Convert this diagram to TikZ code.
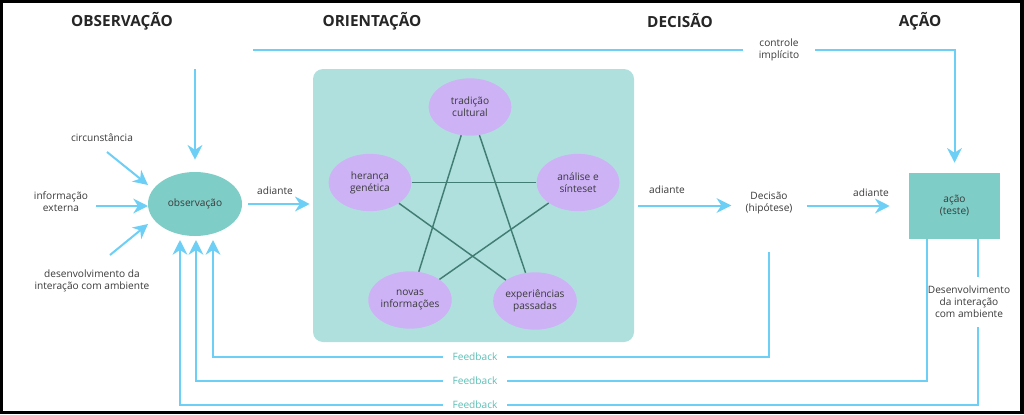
\documentclass[tikz,border=0pt]{standalone}
\usepackage{fontspec}
\setmainfont{Open Sans}
\usetikzlibrary{arrows.meta,shapes.geometric}
\definecolor{lblue}{HTML}{6DCFF6}
\definecolor{obsfill}{HTML}{7ECDC7}
\definecolor{boxfill}{HTML}{B0E0DE}
\definecolor{purp}{HTML}{CDB2F6}
\definecolor{starc}{HTML}{417D72}
\definecolor{fbtxt}{HTML}{5CBFB5}
\definecolor{txt}{HTML}{3A3A3A}
\definecolor{ttl}{HTML}{262626}
\begin{document}
\begin{tikzpicture}[x=0.75pt,y=-0.75pt,
  every node/.style={font=\fontsize{7.6pt}{9pt}\selectfont, text=txt, align=center},
  conn/.style={draw=lblue, line width=1.5pt},
  flow/.style={conn, -{Stealth[length=11pt,width=11pt,inset=3.5pt]}},
  title/.style={font=\fontsize{11.5pt}{13pt}\selectfont\bfseries, text=ttl},
  purpnode/.style={ellipse, fill=purp, minimum width=62pt, minimum height=43pt, inner sep=0pt},
  starline/.style={draw=starc, line width=1.1pt},
  gap/.style={inner sep=0pt, minimum height=9pt}
]
% frame
\fill[black] (0,0) rectangle (1024,414);
\fill[white] (2.5,2.5) rectangle (1020,410.5);
\useasboundingbox (0,0) rectangle (1024,414);

% titles
\node[title] (t1) at (122,21) {OBSERVAÇÃO};
\node[title] (t2) at (372,21) {ORIENTAÇÃO};
\node[title] (t3) at (680,21) {DECISÃO};
\node[title] (t4) at (920,21) {AÇÃO};

% main nodes
\node[ellipse, fill=obsfill, minimum width=70.5pt, minimum height=48pt, inner sep=0pt] (obs) at (195,204) {observação};
\node[rectangle, rounded corners=7.5pt, fill=boxfill, minimum width=240.75pt, minimum height=204.75pt, inner sep=0pt] (orient) at (473.5,205.5) {};
\node[inner sep=0pt] (dec) at (769,203) {Decisão\\(hipótese)};
\node[rectangle, fill=obsfill, minimum width=68.25pt, minimum height=49.5pt, inner sep=0pt] (acao) at (954.5,206) {ação\\(teste)};

% purple nodes
\node[purpnode] (trad) at (470,107) {tradição\\cultural};
\node[purpnode] (her) at (370,182.5) {herança\\genética};
\node[purpnode] (ana) at (578,182.5) {análise e\\sínteset};
\node[purpnode] (nov) at (410,300) {novas\\informações};
\node[purpnode] (exp) at (535,301) {experiências\\passadas};
\draw[starline] (trad) -- (nov);
\draw[starline] (trad) -- (exp);
\draw[starline] (her) -- (ana);
\draw[starline] (her) -- (exp);
\draw[starline] (ana) -- (nov);

% inputs to observation
\node (circ) at (102,138) {circunstância};
\node (info) at (61,201.5) {informação\\externa};
\node (desenv) at (92,280.5) {desenvolvimento da\\interação com ambiente};
\coordinate (c1s) at (107,152); \coordinate (c1e) at (148,185);
\coordinate (c2s) at (96,206);  \coordinate (c2e) at (148,206);
\coordinate (c3s) at (110,255); \coordinate (c3e) at (148,224);
\draw[flow] (c1s) -- (c1e);
\draw[flow] (c2s) -- (c2e);
\draw[flow] (c3s) -- (c3e);
\coordinate (topin) at (195,69);
\draw[flow, shorten >=9pt] (topin) -- (obs.north);

% forward arrows
\draw[flow, shorten <=4.5pt, shorten >=2.25pt] (obs.east) -- (obs.east -| orient.west);
\node (ad1) at (275,191) {adiante};
\draw[flow, shorten <=3pt, shorten >=10.5pt] (orient.east) -- (orient.east -| dec.west);
\node (ad2) at (667,190) {adiante};
\draw[flow, shorten <=10.5pt, shorten >=14.25pt] (dec.east |- acao.west) -- (acao.west);
\node (ad3) at (871,193) {adiante};

% implicit control
\coordinate (ctlstart) at (253,50);
\node[gap, minimum width=54pt] (ctl) at (779,50) {controle\\implícito};
\draw[conn] (ctlstart) -- (ctl.west);
\draw[flow, shorten >=7.5pt] (ctl.east) -| (acao.north);

% feedback loops
\node[gap, text=fbtxt, minimum width=48pt] (fb1) at (475,357) {Feedback};
\node[gap, text=fbtxt, minimum width=48pt] (fb2) at (475,381) {Feedback};
\node[gap, text=fbtxt, minimum width=48pt] (fb3) at (475,405) {Feedback};
\coordinate (in1) at (213,240);
\coordinate (in2) at (196,240);
\coordinate (in3) at (180,240);
\coordinate (decfb) at (769,252);
\coordinate (acfb2) at (927,239);
\coordinate (acfb3) at (978,239);
\coordinate (envtop) at (978,277);
\coordinate (envbot) at (978,327);
\node (env) at (969,302) {Desenvolvimento\\da interação\\com ambiente};

\draw[conn] (decfb) |- (fb1.east);
\draw[flow] (fb1.west) -| (in1);
\draw[conn] (acfb2) |- (fb2.east);
\draw[flow] (fb2.west) -| (in2);
\draw[conn] (acfb3) -- (envtop);
\draw[conn] (envbot) |- (fb3.east);
\draw[flow] (fb3.west) -| (in3);
\end{tikzpicture}
\end{document}
